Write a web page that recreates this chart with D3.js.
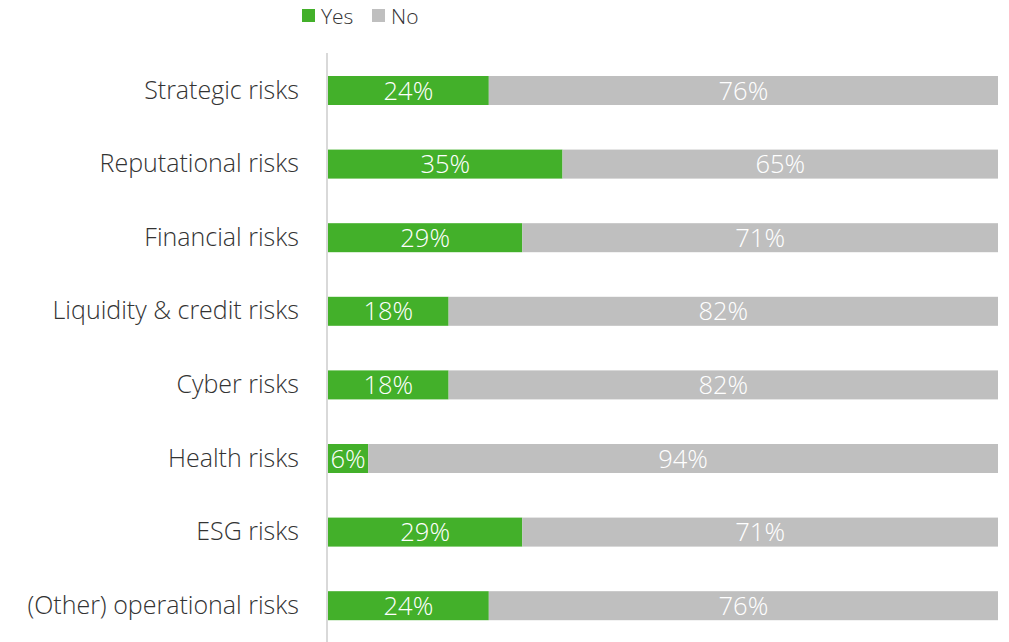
<!DOCTYPE html>
<html>
<head>
<meta charset="utf-8">
<script src="https://cdn.jsdelivr.net/npm/d3@7"></script>
<style>
  html, body { margin: 0; padding: 0; background: #fff; }
  svg { display: block; font-family: "Open Sans", "Noto Sans", sans-serif; }
</style>
</head>
<body>
<svg id="chart" width="1009" height="642"></svg>
<script>
const categories = [
  "Strategic risks",
  "Reputational risks",
  "Financial risks",
  "Liquidity & credit risks",
  "Cyber risks",
  "Health risks",
  "ESG risks",
  "(Other) operational risks"
];
const yesValues = [24, 35, 29, 18, 18, 6, 29, 24];
const noValues  = [76, 65, 71, 82, 82, 94, 71, 76];
const seriesNames = ["Yes", "No"];
const seriesColors = ["#43b02a", "#bfbfbf"];

const svg = d3.select("#chart");

const x = d3.scaleLinear().domain([0, 100]).range([328, 998]);
const y = d3.scaleBand()
  .domain(categories)
  .range([53.7, 642.5])
  .paddingInner(0.606)
  .paddingOuter(0.303);

const rows = categories.map((c, i) => ({
  cat: c,
  parts: [
    { key: "Yes", start: 0, value: yesValues[i] },
    { key: "No", start: yesValues[i], value: noValues[i] }
  ]
}));

const color = d3.scaleOrdinal().domain(seriesNames).range(seriesColors);

// stacked segments
const g = svg.append("g");
const row = g.selectAll("g.row").data(rows).join("g").attr("class", "row");

row.selectAll("rect").data(d => d.parts.map(p => ({ ...p, cat: d.cat })))
  .join("rect")
  .attr("x", d => x(d.start))
  .attr("y", d => y(d.cat))
  .attr("width", d => x(d.start + d.value) - x(d.start))
  .attr("height", y.bandwidth())
  .attr("fill", d => color(d.key));

row.selectAll("text").data(d => d.parts.map(p => ({ ...p, cat: d.cat })))
  .join("text")
  .attr("x", d => (x(d.start) + x(d.start + d.value)) / 2)
  .attr("y", d => y(d.cat) + y.bandwidth() / 2)
  .attr("dy", "0.36em")
  .attr("text-anchor", "middle")
  .attr("fill", "#fff")
  .attr("font-size", 25.5)
  .attr("font-weight", 300)
  .text(d => d.value + "%");

// category axis
const yAxis = d3.axisLeft(y).tickSize(0).tickPadding(28);
const ax = svg.append("g").attr("transform", "translate(327,0)").call(yAxis);
ax.select(".domain").remove();
ax.selectAll("text")
  .attr("font-size", 25)
  .attr("font-weight", 300)
  .attr("fill", "#333")
  .attr("font-family", "\"Open Sans\", \"Noto Sans\", sans-serif");

svg.append("line")
  .attr("x1", 327).attr("x2", 327)
  .attr("y1", 53).attr("y2", 642)
  .attr("stroke", "#d9d9d9")
  .attr("stroke-width", 2);

// legend
const legend = svg.append("g");
const legendX = [302, 372];
seriesNames.forEach((s, i) => {
  legend.append("rect")
    .attr("x", legendX[i]).attr("y", 9)
    .attr("width", 13).attr("height", 13)
    .attr("fill", color(s));
  legend.append("text")
    .attr("x", legendX[i] + 19).attr("y", 16)
    .attr("dy", "0.36em")
    .attr("font-size", 21)
    .attr("font-weight", 300)
    .attr("fill", "#333")
    .text(s);
});
</script>
</body>
</html>
